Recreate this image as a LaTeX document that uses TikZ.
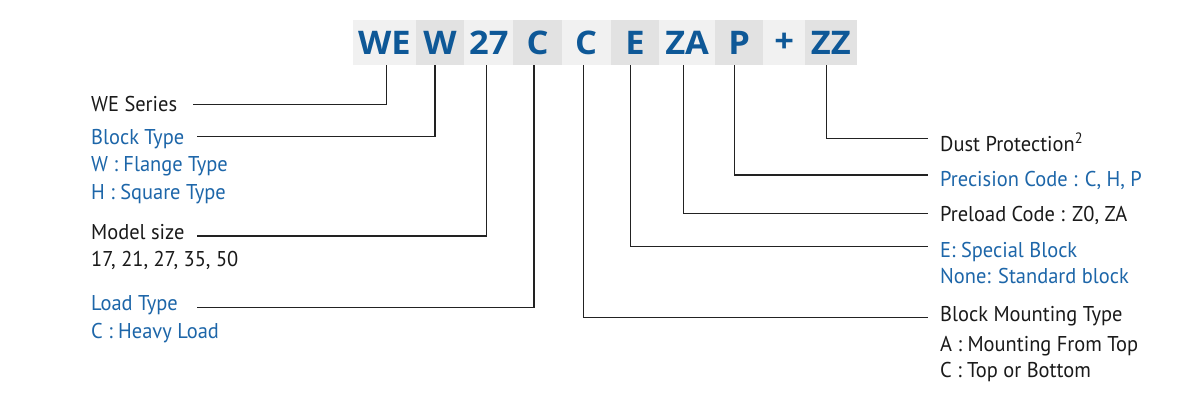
\documentclass[tikz,border=0pt]{standalone}
\usepackage{fontspec}
\setmainfont{PT Sans}[FakeStretch=0.955]
\newfontfamily\codefont{Open Sans}[FakeStretch=1.06]
\definecolor{codeblue}{HTML}{0E5897}
\definecolor{lblblue}{HTML}{1D66A9}
\definecolor{lbldark}{HTML}{1A1A1A}
\definecolor{boxlight}{HTML}{F1F1F1}
\definecolor{boxdark}{HTML}{E2E2E2}
\definecolor{linecol}{HTML}{222222}
\tikzset{
  codebox/.style={inner sep=0pt, minimum height=45pt, text=codeblue,
    font=\codefont\bfseries\fontsize{32.5}{32}\selectfont},
  lbl/.style={anchor=base west, inner sep=0pt, text=lbldark,
    font=\fontsize{21.4}{26}\selectfont},
  lblb/.style={lbl, text=lblblue},
  conn/.style={draw=linecol, line width=1.3pt}
}
\begin{document}
\begin{tikzpicture}[x=1pt,y=-1pt]
\useasboundingbox (0,0) rectangle (1200,400);
\fill[white] (0,0) rectangle (1200,400);
% code boxes
\node[codebox, fill=boxlight, minimum width=62.7pt] (cWE) at (384.35,42.5) {WE};
\node[codebox, fill=boxdark,  minimum width=48.6pt] (cW)  at (440.0,42.5) {W};
\node[codebox, fill=boxlight, minimum width=49pt]   (c27) at (488.8,42.5) {27};
\node[codebox, fill=boxdark,  minimum width=48.4pt] (cC)  at (537.5,42.5) {C};
\node[codebox, fill=boxlight, minimum width=48.8pt] (cC2) at (586.1,42.5) {C};
\node[codebox, fill=boxdark,  minimum width=48.8pt] (cE)  at (634.9,42.5) {E};
\node[codebox, fill=boxlight, minimum width=55.7pt] (cZA) at (687.15,42.5) {ZA};
\node[codebox, fill=boxdark,  minimum width=48.3pt] (cP)  at (739.15,42.5) {P};
\node[codebox, fill=boxlight, minimum width=41.7pt] (cPl) at (784.15,42.5) {+};
\node[codebox, fill=boxdark,  minimum width=51.7pt] (cZZ) at (830.85,42.5) {ZZ};
% left labels
\node[lbl]  (lWE)  at (91,111.7) {WE Series};
\node[lblb] (lBT)  at (91,144)   {Block Type};
\node[lblb] (lBT1) at (91,171.7) {W : Flange Type};
\node[lblb] (lBT2) at (91,199)   {H : Square Type};
\node[lbl]  (lMS)  at (91,239.3) {Model size};
\node[lbl]  (lMS1) at (91,266)   {17, 21, 27, 35, 50};
\node[lblb] (lLT)  at (91,310.7) {Load Type};
\node[lblb] (lLT1) at (91,338.3) {C : Heavy Load};
% right labels
\node[lbl]  (rDP)  at (940,151)   {Dust Protection\textsuperscript{2}};
\node[lblb] (rPC)  at (940,186)   {Precision Code : C, H, P};
\node[lbl]  (rPL)  at (940,221.7) {Preload Code : Z0, ZA};
\node[lblb] (rSB)  at (940,257.7) {E: Special Block};
\node[lblb] (rSB1) at (940,283.7) {None: Standard block};
\node[lbl]  (rBM)  at (940,321.7) {Block Mounting Type};
\node[lbl]  (rBM1) at (940,351.7) {A : Mounting From Top};
\node[lbl]  (rBM2) at (940,377.3) {C : Top or Bottom};
% connector ends
\coordinate (eWE) at (193,104.5);
\coordinate (eW)  at (197,136.7);
\coordinate (e27) at (197,236);
\coordinate (eC)  at (197,307.7);
\coordinate (eC2) at (928,317.5);
\coordinate (eE)  at (928,246.7);
\coordinate (eZA) at (928,213.3);
\coordinate (eP)  at (928,175);
\coordinate (eZZ) at (928,138.5);
% connectors
\draw[conn] ([xshift=2.3pt]cWE.south) |- (eWE);
\draw[conn] ([xshift=-5pt]cW.south)   |- (eW);
\draw[conn] ([xshift=-2.1pt]c27.south) |- (e27);
\draw[conn] ([xshift=-3.5pt]cC.south)  |- (eC);
\draw[conn] ([xshift=-2.6pt]cC2.south) |- (eC2);
\draw[conn] ([xshift=-4.2pt]cE.south)  |- (eE);
\draw[conn] ([xshift=-3.6pt]cZA.south) |- (eZA);
\draw[conn] ([xshift=-4.6pt]cP.south)  |- (eP);
\draw[conn] ([xshift=-4.3pt]cZZ.south) |- (eZZ);
\end{tikzpicture}
\end{document}
